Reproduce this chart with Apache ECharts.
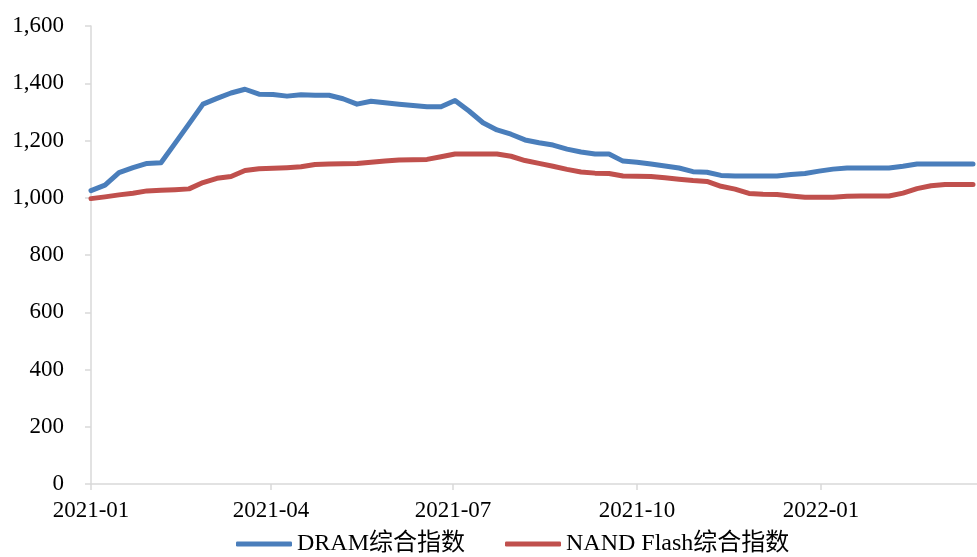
<!DOCTYPE html>
<html>
<head>
<meta charset="utf-8">
<title>DRAM / NAND Flash 综合指数</title>
<script src="https://cdn.jsdelivr.net/npm/echarts@6/dist/echarts.min.js"></script>
<style>
  html, body { margin: 0; padding: 0; background: #fff; }
  #chart { width: 977px; height: 557px; }
</style>
</head>
<body>
<div id="chart"></div>
<script>
// weekly dates
const dates = [
  '2021-01-01', '2021-01-08', '2021-01-15', '2021-01-22', '2021-01-29',
  '2021-02-05', '2021-02-12', '2021-02-19', '2021-02-26',
  '2021-03-05', '2021-03-12', '2021-03-19', '2021-03-26',
  '2021-04-02', '2021-04-09', '2021-04-16', '2021-04-23', '2021-04-30',
  '2021-05-07', '2021-05-14', '2021-05-21', '2021-05-28',
  '2021-06-04', '2021-06-11', '2021-06-18', '2021-06-25',
  '2021-07-02', '2021-07-09', '2021-07-16', '2021-07-23', '2021-07-30',
  '2021-08-06', '2021-08-13', '2021-08-20', '2021-08-27',
  '2021-09-03', '2021-09-10', '2021-09-17', '2021-09-24',
  '2021-10-01', '2021-10-08', '2021-10-15', '2021-10-22', '2021-10-29',
  '2021-11-05', '2021-11-12', '2021-11-19', '2021-11-26',
  '2021-12-03', '2021-12-10', '2021-12-17', '2021-12-24', '2021-12-31',
  '2022-01-07', '2022-01-14', '2022-01-21', '2022-01-28',
  '2022-02-04', '2022-02-11', '2022-02-18', '2022-02-25',
  '2022-03-04', '2022-03-11', '2022-03-18'
]

const dramIndex = [
  1025, 1044, 1088, 1105, 1120, 1122, 1190, 1258, 1327, 1347,
  1366, 1379, 1362, 1361, 1355, 1360, 1358, 1358, 1346, 1327,
  1337, 1332, 1327, 1322, 1318, 1318, 1340, 1303, 1262, 1237,
  1222, 1202, 1192, 1184, 1170, 1160, 1153, 1153, 1128, 1124,
  1118, 1111, 1104, 1091, 1089, 1078, 1076, 1076, 1076, 1076,
  1081, 1085, 1093, 1100, 1104, 1104, 1104, 1104, 1110, 1118,
  1118, 1118, 1118, 1118
]

const nandIndex = [
  997, 1003, 1010, 1016, 1024, 1026, 1028, 1031, 1053, 1068,
  1074, 1095, 1101, 1103, 1105, 1108, 1116, 1118, 1119, 1120,
  1124, 1128, 1132, 1133, 1134, 1143, 1153, 1153, 1153, 1153,
  1145, 1130, 1120, 1110, 1099, 1090, 1086, 1085, 1076, 1075,
  1074, 1070, 1065, 1060, 1057, 1040, 1030, 1015, 1012, 1011,
  1006, 1002, 1002, 1002, 1005, 1006, 1006, 1006, 1016, 1032,
  1042, 1046, 1046, 1046
]

const seriesNames = ['DRAM综合指数', 'NAND Flash综合指数']
const tickDates = ['2021-01-01', '2021-04-01', '2021-07-01', '2021-10-01', '2022-01-01']
const axisEnd = '2022-03-20'

const fontFamily = '"Liberation Serif", "Times New Roman", "Noto Sans CJK SC", serif'

// dates -> UTC day timestamps, used on a plain value axis
function toTime(s) {
  const p = s.split('-')
  return Date.UTC(+p[0], +p[1] - 1, +p[2])
}
const times = dates.map(toTime)
const tickValues = tickDates.map(toTime)

const chart = echarts.init(document.getElementById('chart'))

chart.setOption({
  animation: false,
  textStyle: { fontFamily: fontFamily },
  grid: {
    left: 91,
    right: 0,
    top: 26,
    bottom: 73
  },
  legend: {
    top: 532,
    left: 236,
    icon: 'roundRect',
    itemWidth: 56,
    itemHeight: 5,
    itemGap: 40,
    padding: 0,
    textStyle: {
      fontFamily: fontFamily,
      fontSize: 24,
      color: '#000'
    },
    data: seriesNames
  },
  xAxis: {
    type: 'value',
    min: times[0],
    max: toTime(axisEnd),
    axisLine: { show: true, lineStyle: { color: '#d9d9d9', width: 1.5 } },
    axisTick: {
      show: true,
      length: 6,
      customValues: tickValues,
      lineStyle: { color: '#d9d9d9', width: 1.5 }
    },
    axisLabel: {
      customValues: tickValues,
      margin: 15,
      fontSize: 23,
      color: '#000',
      fontFamily: fontFamily,
      formatter: function (v) {
        const d = new Date(v)
        const m = d.getUTCMonth() + 1
        return d.getUTCFullYear() + '-' + (m < 10 ? '0' + m : m)
      }
    },
    splitLine: { show: false }
  },
  yAxis: {
    type: 'value',
    min: 0,
    max: 1600,
    interval: 200,
    axisLine: { show: true, lineStyle: { color: '#d9d9d9', width: 1.5 } },
    axisTick: { show: true, length: 6, lineStyle: { color: '#d9d9d9', width: 1.5 } },
    axisLabel: {
      margin: 27,
      fontSize: 23,
      color: '#000',
      fontFamily: fontFamily,
      formatter: function (v) {
        return v.toLocaleString('en-US')
      }
    },
    splitLine: { show: false }
  },
  series: [
    {
      name: seriesNames[0],
      type: 'line',
      showSymbol: false,
      symbol: 'none',
      data: times.map((t, i) => [t, dramIndex[i]]),
      lineStyle: { color: '#4a7ebb', width: 5, cap: 'round', join: 'round' },
      itemStyle: { color: '#4a7ebb' }
    },
    {
      name: seriesNames[1],
      type: 'line',
      showSymbol: false,
      symbol: 'none',
      data: times.map((t, i) => [t, nandIndex[i]]),
      lineStyle: { color: '#c0504d', width: 5, cap: 'round', join: 'round' },
      itemStyle: { color: '#c0504d' }
    }
  ]
})
</script>
</body>
</html>
